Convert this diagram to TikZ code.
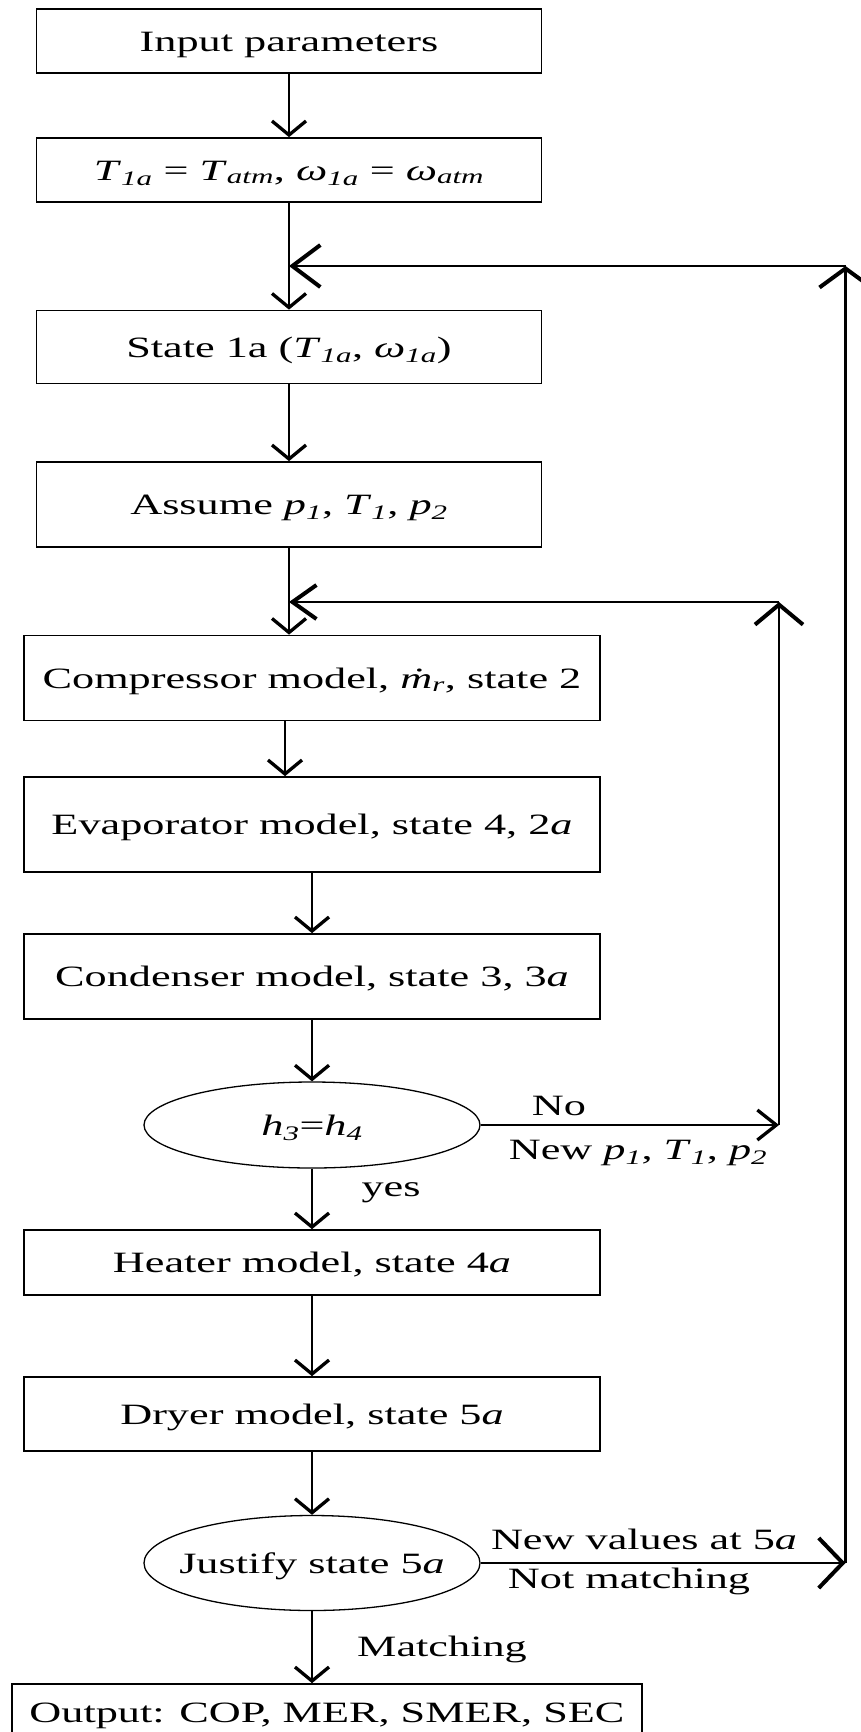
\documentclass[tikz,border=0pt]{standalone}
\usepackage{fontspec}
\setmainfont[FakeStretch=1.5]{Liberation Serif}
\usetikzlibrary{arrows.meta,shapes.geometric}

% italic subscript
\newcommand\sbi[1]{\textsubscript{\textit{#1}}}

\begin{document}
\begin{tikzpicture}[x=1pt,y=-1pt,
  every node/.style={font=\fontsize{29.5}{35}\selectfont, inner sep=0pt,
    text height=20pt, text depth=0pt},
  box/.style={draw, line width=1.7pt, minimum width=505pt},
  wide/.style={box, minimum width=576pt},
  test/.style={draw, ellipse, line width=1.3pt, minimum width=336pt, inner xsep=-45pt},
  flow/.style={line width=2.1pt, -{Straight Barb[length=14pt,width=34pt,line width=3.3pt]}},
  back/.style={line width=2.1pt, -{Straight Barb[length=19pt,width=30pt,line width=3.3pt]}},
  loop/.style={line width=2.9pt, -{Straight Barb[length=#1,line width=4pt]}}
]
\useasboundingbox (0,0) rectangle (861,1732);
\clip (0,0) rectangle (861,1732);

% process boxes and decisions
\node[box, minimum height=64pt] (inp) at (289,41) {Input parameters};
\node[box, minimum height=64pt] (atm) at (289,170)
  {\textit{T}\sbi{1a} = \textit{T}\sbi{atm}, \textit{ω}\sbi{1a} = \textit{ω}\sbi{atm}};
\node[box, minimum height=73pt] (s1a) at (289,347)
  {State 1a (\textit{T}\sbi{1a}, \textit{ω}\sbi{1a})};
\node[box, minimum height=85pt] (asm) at (289,504.5)
  {Assume \textit{p}\sbi{1}, \textit{T}\sbi{1}, \textit{p}\sbi{2}};
\node[wide, minimum height=85pt] (cmp) at (312,678)
  {Compressor model, \textit{\.m}\sbi{r}, state 2};
\node[wide, minimum height=95pt] (evp) at (312,824.5)
  {Evaporator model, state 4, 2\textit{a}};
\node[wide, minimum height=85pt] (cnd) at (312,976.5)
  {Condenser model, state 3, 3\textit{a}};
\node[test, minimum height=86pt] (hh) at (312,1125) {\textit{h}\sbi{3}=\textit{h}\sbi{4}};
\node[wide, minimum height=65pt] (htr) at (312,1262.5) {Heater model, state 4\textit{a}};
\node[wide, minimum height=74pt] (dry) at (312,1414) {Dryer model, state 5\textit{a}};
\node[test, minimum height=95pt] (jst) at (312,1563) {Justify state 5\textit{a}};
\node[box, minimum width=630pt, minimum height=56pt] (out) at (327,1712)
  {Output: COP, MER, SMER, SEC};

% main flow
\draw[flow] (inp) -- (atm);
\draw[flow] (atm) -- (s1a);
\draw[flow] (s1a) -- (asm);
\draw[flow] (asm.south) -- (asm.south |- cmp.north);
\draw[flow] ([xshift=-27pt]cmp.south) -- ([xshift=-27pt]evp.north);
\draw[flow] (evp) -- (cnd);
\draw[flow] (cnd) -- (hh);
\draw[flow] (hh) -- (htr);
\draw[flow] (htr) -- (dry);
\draw[flow] (dry) -- (jst);
\draw[flow] (jst.south) -- (jst.south |- out.north);

% inner iteration loop
\coordinate (c1) at (779,1125);
\coordinate (c2) at (779,602);
\coordinate (c3) at (289,602);
\draw[back] (hh.east) -- (c1);
\draw[loop={20pt,width=48pt}] (c1) -- (c2);
\draw[loop={24pt,width=34pt}] (c2) -- (c3);

% outer iteration loop
\coordinate (d1) at (845.5,1563);
\coordinate (d2) at (845.5,266);
\coordinate (d3) at (289,266);
\draw[loop={24pt,width=50pt}] (jst.east) -- (d1);
\draw[loop={19pt,width=52pt}] (d1) -- (d2);
\draw[loop={28pt,width=42pt}] (d2) -- (d3);

% branch labels
\node (no) at (559,1105) {No};
\node (np) at (638,1149) {New \textit{p}\sbi{1}, \textit{T}\sbi{1}, \textit{p}\sbi{2}};
\node (yes) at (391,1186) {yes};
\node (nv) at (644,1539) {New values at 5\textit{a}};
\node (nm) at (629,1578) {Not matching};
\node (mt) at (442,1646) {Matching};
\end{tikzpicture}
\end{document}
